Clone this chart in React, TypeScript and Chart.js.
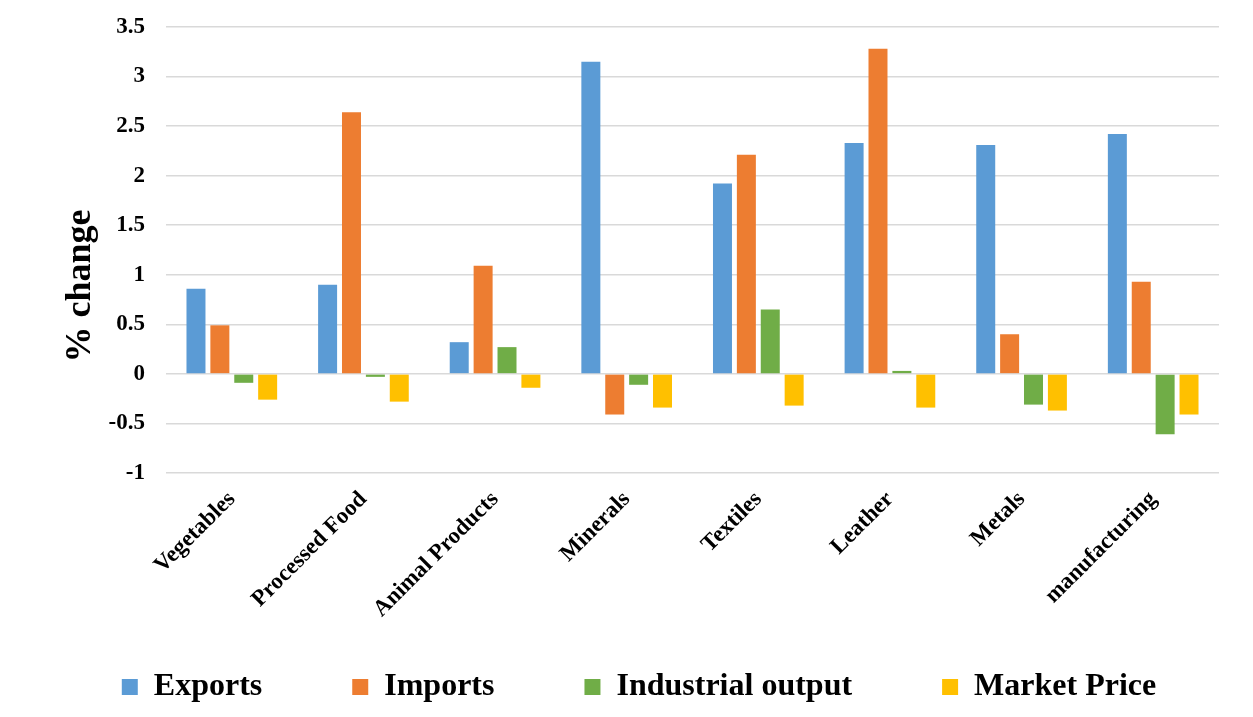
import React, { useEffect, useRef } from "react";
import { Chart, registerables } from "chart.js";

Chart.register(...registerables);

// Sector names along the horizontal axis
const categories = [
  "Vegetables",
  "Processed Food",
  "Animal Products",
  "Minerals",
  "Textiles",
  "Leather",
  "Metals",
  "manufacturing",
];

// Percentage change per sector
const exportsChange = [0.86, 0.9, 0.32, 3.15, 1.92, 2.33, 2.31, 2.42];
const importsChange = [0.49, 2.64, 1.09, -0.41, 2.21, 3.28, 0.4, 0.93];
const industrialOutputChange = [-0.09, -0.03, 0.27, -0.11, 0.65, 0.03, -0.31, -0.61];
const marketPriceChange = [-0.26, -0.28, -0.14, -0.34, -0.32, -0.34, -0.37, -0.41];

// Value-axis tick marks
const yTicks = [-1, -0.5, 0, 0.5, 1, 1.5, 2, 2.5, 3, 3.5];

const serif = "'Liberation Serif', 'Times New Roman', serif";

// Wide spacing after each legend entry except the last one
const legendSpacer = "\u00A0".repeat(10);
// Trailing space lowers the rotated axis title along the value axis
const titleSpacer = "\u00A0".repeat(8);

export default function App() {
  const canvasRef = useRef<HTMLCanvasElement>(null);

  useEffect(() => {
    const canvas = canvasRef.current;
    if (!canvas) return;

    const defaultLabels = Chart.defaults.plugins.legend.labels.generateLabels;

    const chart = new Chart(canvas, {
      type: "bar",
      data: {
        labels: categories,
        datasets: [
          { label: "Exports", data: exportsChange, backgroundColor: "#5B9BD5" },
          { label: "Imports", data: importsChange, backgroundColor: "#ED7D31" },
          { label: "Industrial output", data: industrialOutputChange, backgroundColor: "#70AD47" },
          { label: "Market Price", data: marketPriceChange, backgroundColor: "#FFC000" },
        ],
      },
      options: {
        responsive: false,
        animation: false,
        devicePixelRatio: 1,
        datasets: {
          bar: {
            barPercentage: 0.795,
            categoryPercentage: 0.726,
          },
        },
        layout: {
          padding: { top: 19, left: 51, right: 32, bottom: 4 },
        },
        plugins: {
          tooltip: { enabled: false },
          legend: {
            position: "bottom",
            align: "center",
            labels: {
              boxWidth: 16,
              boxHeight: 16,
              padding: 10,
              color: "#000",
              font: { family: serif, size: 32, weight: "bold" },
              generateLabels: (c: any) => {
                const items = defaultLabels(c);
                return items.map((item: any, i: number) => ({
                  ...item,
                  lineWidth: 0,
                  text: i < items.length - 1 ? item.text + legendSpacer : item.text,
                }));
              },
            },
          },
        },
        scales: {
          x: {
            type: "category",
            grid: { display: false },
            border: { display: false },
            ticks: {
              autoSkip: false,
              minRotation: 45,
              maxRotation: 45,
              padding: 5,
              color: "#000",
              font: { family: serif, size: 23, weight: "bold" },
            },
            afterFit: (scale: any) => {
              scale.height = 188;
            },
          },
          y: {
            type: "linear",
            min: yTicks[0],
            max: yTicks[yTicks.length - 1],
            afterBuildTicks: (scale: any) => {
              scale.ticks = yTicks.map((v) => ({ value: v }));
            },
            grid: {
              color: "#d9d9d9",
              lineWidth: 1.5,
              drawTicks: true,
              tickLength: 16,
              tickColor: "rgba(0,0,0,0)",
            },
            border: { display: false },
            ticks: {
              padding: 5,
              color: "#000",
              font: { family: serif, size: 23, weight: "bold" },
              callback: (v: any) => String(v),
            },
            title: {
              display: true,
              text: "% change" + titleSpacer,
              color: "#000",
              padding: 0,
              font: { family: serif, size: 36, weight: "bold" },
            },
            afterFit: (scale: any) => {
              scale.width = 107;
            },
          },
        },
      },
    });

    return () => chart.destroy();
  }, []);

  return (
    <div
      style={{
        marginLeft: -2,
        marginTop: -2,
        marginBottom: -8,
        borderLeft: "2px solid #d9d9d9",
        borderTop: "2px solid #d9d9d9",
        width: 1243,
        height: 709,
      }}
    >
      <canvas ref={canvasRef} width={1243} height={709} style={{ display: "block" }} />
    </div>
  );
}
